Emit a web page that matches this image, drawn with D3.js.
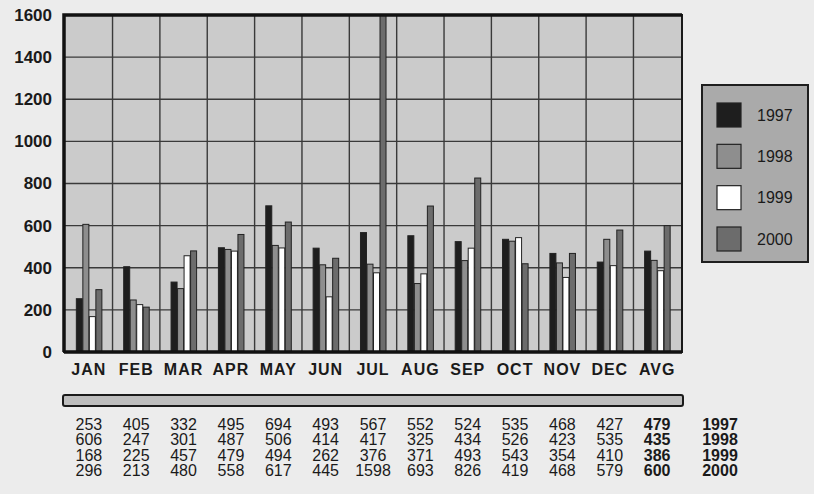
<!DOCTYPE html>
<html>
<head>
<meta charset="utf-8">
<script src="https://cdn.jsdelivr.net/npm/d3@7"></script>
<style>
  body { margin: 0; background: #ececec; }
  svg { display: block; font-family: "Liberation Sans", Arial, sans-serif; }
</style>
</head>
<body>
<svg id="chart" width="814" height="494"></svg>
<script>
// categories and series
const months = ["JAN", "FEB", "MAR", "APR", "MAY", "JUN", "JUL", "AUG", "SEP", "OCT", "NOV", "DEC", "AVG"];
const years = ["1997", "1998", "1999", "2000"];
const v1997 = [253, 405, 332, 495, 694, 493, 567, 552, 524, 535, 468, 427, 479];
const v1998 = [606, 247, 301, 487, 506, 414, 417, 325, 434, 526, 423, 535, 435];
const v1999 = [168, 225, 457, 479, 494, 262, 376, 371, 493, 543, 354, 410, 386];
const v2000 = [296, 213, 480, 558, 617, 445, 1598, 693, 826, 419, 468, 579, 600];
const yTicks = [0, 200, 400, 600, 800, 1000, 1200, 1400, 1600];

const series = [v1997, v1998, v1999, v2000];
const fills = ["#1e1e1e", "#8e8e8e", "#ffffff", "#6c6c6c"];

const svg = d3.select("#chart");
const pl = 64, pr = 682, pt = 15, pb = 352;

const x0 = d3.scaleBand().domain(months).range([pl, pr])
  .paddingInner(0.45).paddingOuter(0.25);
const x1 = d3.scaleBand().domain(years).range([0, x0.bandwidth()]);
const y = d3.scaleLinear().domain([0, 1600]).range([pb, pt]);
const center = m => x0(m) + x0.bandwidth() / 2;

// plot background
svg.append("rect")
  .attr("x", pl).attr("y", pt)
  .attr("width", pr - pl).attr("height", pb - pt)
  .attr("fill", "#cbcbcb");

// horizontal grid
svg.append("g").selectAll("line")
  .data(yTicks.slice(1, -1))
  .join("line")
  .attr("x1", pl).attr("x2", pr)
  .attr("y1", d => y(d)).attr("y2", d => y(d))
  .attr("stroke", "#3a3a3a").attr("stroke-width", 1.4);

// vertical grid between groups
const step = x0.step();
svg.append("g").selectAll("line")
  .data(months.slice(1))
  .join("line")
  .attr("x1", d => x0(d) - step * x0.paddingInner() / 2)
  .attr("x2", d => x0(d) - step * x0.paddingInner() / 2)
  .attr("y1", pt).attr("y2", pb)
  .attr("stroke", "#3a3a3a").attr("stroke-width", 1.4);

// bars
const groups = svg.append("g").selectAll("g")
  .data(months)
  .join("g")
  .attr("transform", d => `translate(${x0(d)},0)`);

groups.selectAll("rect")
  .data((m, i) => years.map((yr, k) => ({ yr, k, v: series[k][i] })))
  .join("rect")
  .attr("x", d => x1(d.yr) + 0.5)
  .attr("y", d => y(d.v))
  .attr("width", x1.bandwidth() - 0.5)
  .attr("height", d => pb - y(d.v))
  .attr("fill", d => fills[d.k])
  .attr("stroke", "#222")
  .attr("stroke-width", 1);

// frame
svg.append("rect")
  .attr("x", pl).attr("y", pt)
  .attr("width", pr - pl).attr("height", pb - pt)
  .attr("fill", "none").attr("stroke", "#1a1a1a").attr("stroke-width", 2);
svg.append("path")
  .attr("d", `M${pl},${pb}V${pt}H${pr}M${pl},${pb}H${pr}`)
  .attr("fill", "none").attr("stroke", "#111").attr("stroke-width", 3.5);

// y axis labels
const yAxis = d3.axisLeft(y).tickValues(yTicks).tickFormat(d3.format("d"))
  .tickSize(0).tickPadding(12);
svg.append("g")
  .attr("transform", `translate(${pl},0)`)
  .call(yAxis)
  .call(g => g.select(".domain").remove())
  .selectAll("text")
  .attr("font-family", "'Liberation Sans', Arial, sans-serif")
  .attr("font-size", 17).attr("font-weight", "bold").attr("fill", "#1a1a1a");

// x axis labels
const xAxis = d3.axisBottom(x0).tickSize(0).tickPadding(12);
svg.append("g")
  .attr("transform", `translate(0,${pb})`)
  .call(xAxis)
  .call(g => g.select(".domain").remove())
  .selectAll("text")
  .attr("font-family", "'Liberation Sans', Arial, sans-serif")
  .attr("font-size", 16).attr("font-weight", "bold").attr("fill", "#1a1a1a")
  .attr("letter-spacing", 1);

// grey strip above the table
svg.append("rect")
  .attr("x", pl - 1).attr("y", 395)
  .attr("width", pr - pl + 2).attr("height", 11)
  .attr("rx", 2)
  .attr("fill", "#bdbdbd").attr("stroke", "#1a1a1a").attr("stroke-width", 2);

// data table
const rowY = [424, 439.5, 455, 470.5];
series.forEach((vals, k) => {
  svg.append("g").selectAll("text")
    .data(months)
    .join("text")
    .attr("x", d => center(d))
    .attr("y", rowY[k])
    .attr("dy", "0.35em")
    .attr("text-anchor", "middle")
    .attr("font-size", 16)
    .attr("font-weight", d => d === "AVG" ? "bold" : "normal")
    .attr("fill", "#1a1a1a")
    .text((d, i) => vals[i]);
  svg.append("text")
    .attr("x", 720).attr("y", rowY[k]).attr("dy", "0.35em")
    .attr("text-anchor", "middle")
    .attr("font-size", 16).attr("font-weight", "bold").attr("fill", "#1a1a1a")
    .text(years[k]);
});

// legend
const legend = svg.append("g");
legend.append("rect")
  .attr("x", 702).attr("y", 85).attr("width", 106).attr("height", 177)
  .attr("fill", "#aaaaaa").attr("stroke", "#1e1e1e").attr("stroke-width", 2);
const ly = d3.scalePoint().domain(years).range([115, 239]);
legend.selectAll("rect.sw")
  .data(years)
  .join("rect")
  .attr("class", "sw")
  .attr("x", 717).attr("y", d => ly(d) - 12)
  .attr("width", 24).attr("height", 24)
  .attr("fill", (d, i) => fills[i])
  .attr("stroke", "#222").attr("stroke-width", 1.2);
legend.selectAll("text")
  .data(years)
  .join("text")
  .attr("x", 757).attr("y", d => ly(d)).attr("dy", "0.35em")
  .attr("font-size", 16).attr("fill", "#1a1a1a")
  .text(d => d);
</script>
</body>
</html>
